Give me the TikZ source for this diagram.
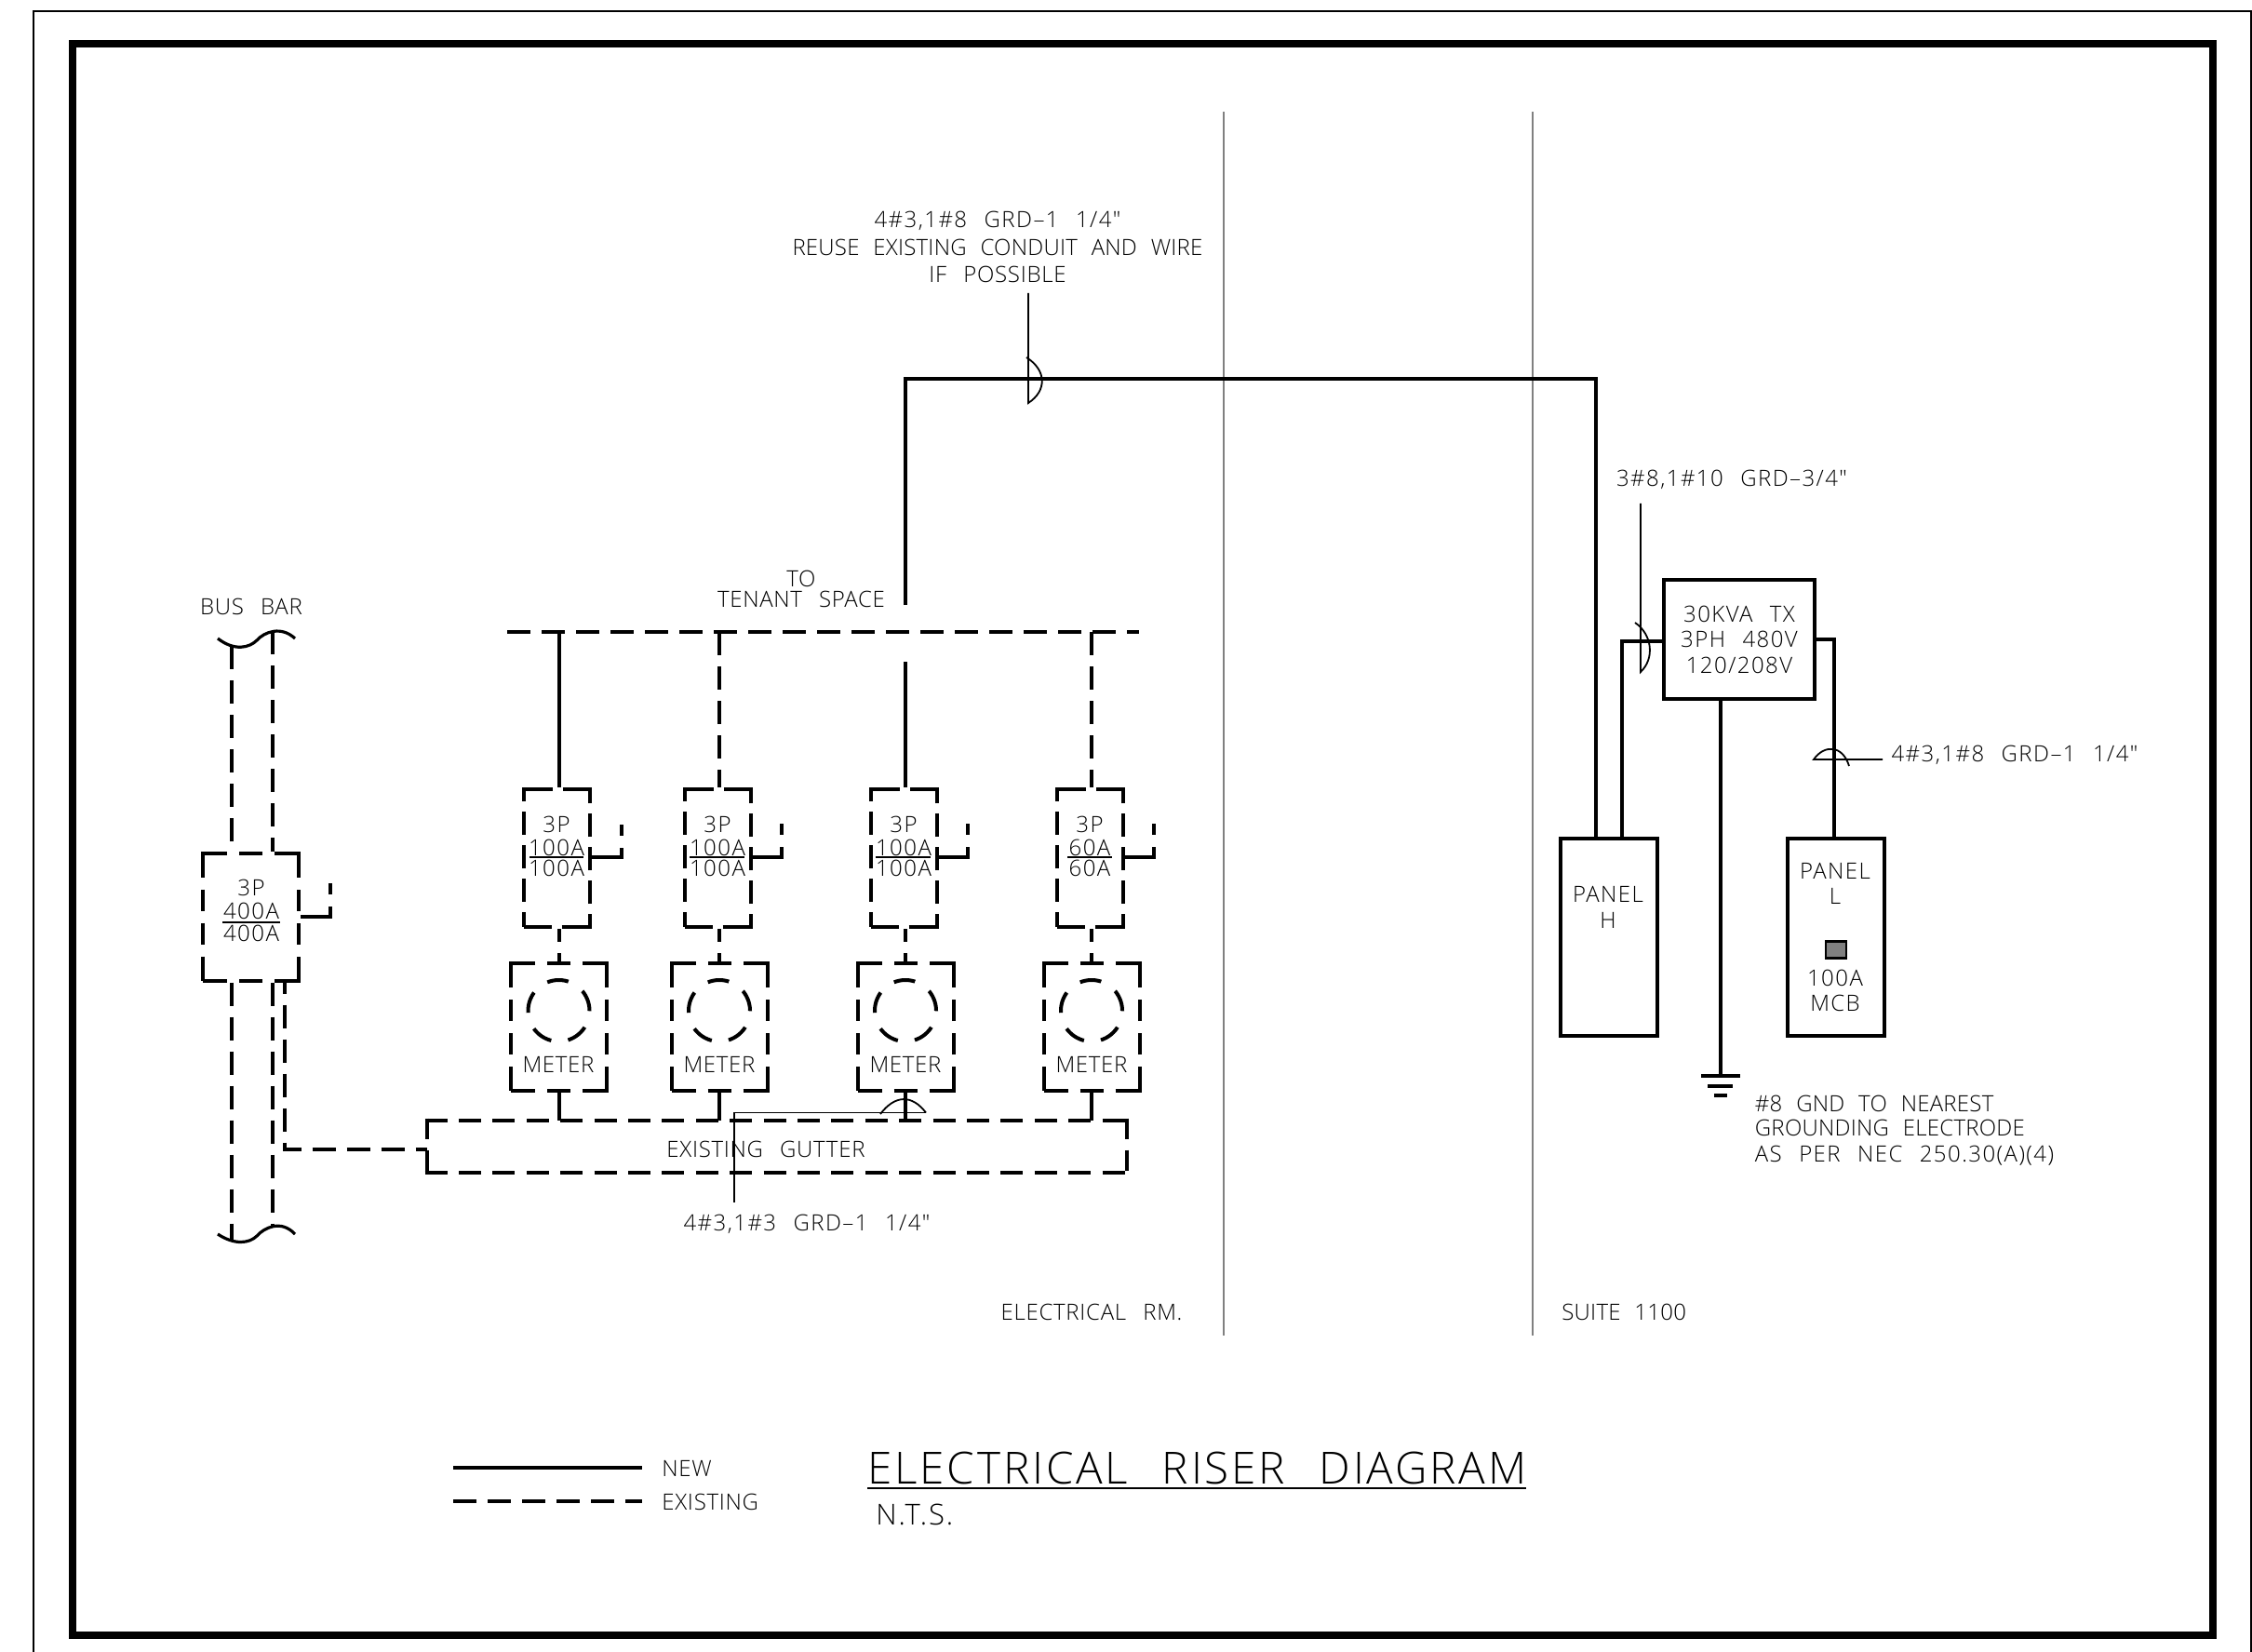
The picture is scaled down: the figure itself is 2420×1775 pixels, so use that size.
\documentclass[tikz,border=0pt]{standalone}
\usepackage{fontspec}
\setmainfont{Open Sans}[UprightFont=* Light,LetterSpace=3,WordSpace=2.6]
\newfontfamily\widefont{Open Sans}[UprightFont=* Light,LetterSpace=6,WordSpace=2.4]
\newfontfamily\tightfont{Open Sans}[UprightFont=* Light,LetterSpace=1,WordSpace=2.3]
\usetikzlibrary{positioning}
\tikzset{
	newwire/.style={line width=2pt},
	oldwire/.style={line width=2pt,dash pattern=on 12.5pt off 6pt},
	leader/.style={line width=0.9pt},
	newbox/.style={draw,line width=2pt,inner sep=0pt},
	oldbox/.style={draw,line width=2pt,inner sep=0pt},
	plaintext/.style={inner sep=0pt,align=center,font=\fontsize{12}{14}\selectfont},
	widetext/.style={inner sep=0pt,align=center,font=\widefont\fontsize{12}{14}\selectfont},
	tighttext/.style={inner sep=0pt,align=center,font=\tightfont\fontsize{12}{14}\selectfont},
	breaker/.style={oldbox,minimum width=35.5pt,minimum height=74pt,
		dash pattern=on 15pt off 5.5pt on 22pt off 5.5pt on 12.5pt off 5.5pt on 12.5pt off 5.5pt on 12.5pt off 5.5pt on 22pt off 5.5pt on 22pt off 5.5pt on 12.5pt off 5.5pt on 12.5pt off 5.5pt on 12.5pt off 5.5pt on 7pt off 0pt},
	meter/.style={oldbox,minimum width=51.5pt,minimum height=68.5pt,
		dash pattern=on 13pt off 6.5pt on 12.5pt off 6.5pt on 26pt off 6.5pt on 11.5pt off 6.5pt on 11.5pt off 6.5pt on 26pt off 6.5pt on 12.5pt off 6.5pt on 26pt off 6.5pt on 11.5pt off 6.5pt on 11.5pt off 6.5pt on 13pt off 0pt},
	dial/.style={circle,oldbox,dash pattern=on 11.5pt off 9.2pt,minimum size=33pt},
	gutterbox/.style={inner sep=0pt,minimum width=376pt,minimum height=28pt},
	gutterlong/.style={line width=2pt,dash pattern=on 12pt off 6.2pt,shorten <=-1pt,shorten >=-1pt},
	guttershort/.style={line width=2pt,dash pattern=on 11pt off 6pt,shorten <=-1pt,shorten >=-1pt},
	handle/.style={line width=2pt,dash pattern=on 6pt off 6.5pt on 60pt off 60pt},
	linkwire/.style={line width=2pt,dash pattern=on 7pt off 6pt},
}
\begin{document}
\begin{tikzpicture}[x=0.5pt,y=0.5pt,yscale=-1,xscale=1]
	\useasboundingbox (0,0) rectangle (2420,1775);
	%Outer frame
	\draw [line width=0.9pt] (36,1775) -- (36,12) -- (2419,12) -- (2419,1775);
	\draw [line width=4pt] (78,47) rectangle (2378,1757);
	%Room walls
	\draw [line width=0.9pt,color=gray] (1315,120) -- (1315,1435);
	\draw [line width=0.9pt,color=gray] (1647,120) -- (1647,1435);

	%Bus bar and main breaker
	\draw (269.5,985) node [meter] (mainbrk) {};
	\draw (270,954) node [widetext] (maina) {3P};
	\draw (270,979) node [widetext] (mainb) {400A};
	\draw (270,1003) node [widetext] (mainc) {400A};
	\draw [leader] (239,991) -- (301,991);
	\draw [line width=1.6pt] (234,686) .. controls (252,700) and (268,696) .. (276,688) .. controls (284,679) and (302,672) .. (317,686);
	\draw [line width=1.6pt] (234,1326) .. controls (252,1338) and (268,1336) .. (276,1328) .. controls (284,1319) and (302,1310) .. (317,1326);
	\coordinate (busatop) at (249,694);
	\coordinate (busbtop) at (293,678);
	\coordinate (busabot) at (249,1333);
	\coordinate (busbbot) at (293,1317);
	\draw [oldwire] (busatop) -- (mainbrk.north -| busatop);
	\draw [oldwire] (busbtop) -- (mainbrk.north -| busbtop);
	\draw [oldwire] (mainbrk.south -| busabot) -- (busabot);
	\draw [oldwire] (mainbrk.south -| busbbot) -- (busbbot);
	\coordinate (mainstub) at (355,949);
	\draw [handle] (mainstub) -- (355,985) -- (mainbrk.east |- 0,985);

	%Gutter
	\draw (835,1232) node [gutterbox] (gutter) {};
	\draw [gutterlong] (gutter.north west) -- (gutter.north east);
	\draw [gutterlong] (gutter.south west) -- (gutter.south east);
	\draw [guttershort] (gutter.north west) -- (gutter.south west);
	\draw [guttershort] (gutter.north east) -- (gutter.south east);
	\draw (823,1235) node [plaintext] (guttertext) {EXISTING GUTTER};
	\draw [oldwire,dash phase=6.5pt] (mainbrk.south -| 306,0) -- (306,1235) -- (gutter.west |- 0,1235);

	%Tap bus
	\draw [oldwire] (545,679) -- (1224,679);
	\coordinate (tapa) at (600.5,679);
	\coordinate (tapb) at (773,679);
	\coordinate (tapc) at (973,711);
	\coordinate (tapd) at (1173,679);

	%Breakers
	\draw (598,922) node [breaker] (brka) {};
	\draw (771,922) node [breaker] (brkb) {};
	\draw (971,922) node [breaker] (brkc) {};
	\draw (1171,922) node [breaker] (brkd) {};
	\draw [newwire] (tapa) -- (tapa |- brka.north);
	\draw [oldwire] (tapb) -- (tapb |- brkb.north);
	\draw [newwire] (tapc) -- (tapc |- brkc.north);
	\draw [oldwire] (tapd) -- (tapd |- brkd.north);
	% Text Node
	\draw (598,886) node [widetext] (brkatop) {3P};
	\draw (598,911) node [widetext] (brkamid) {100A};
	\draw (598,933) node [widetext] (brkalow) {100A};
	\draw (771,886) node [widetext] (brkbtop) {3P};
	\draw (771,911) node [widetext] (brkbmid) {100A};
	\draw (771,933) node [widetext] (brkblow) {100A};
	\draw (971,886) node [widetext] (brkctop) {3P};
	\draw (971,911) node [widetext] (brkcmid) {100A};
	\draw (971,933) node [widetext] (brkclow) {100A};
	\draw (1171,886) node [widetext] (brkdtop) {3P};
	\draw (1171,911) node [widetext] (brkdmid) {60A};
	\draw (1171,933) node [widetext] (brkdlow) {60A};
	\draw [leader] (569,921) -- (627,921);
	\draw [leader] (741,921) -- (800,921);
	\draw [leader] (941,921) -- (1000,921);
	\draw [leader] (1147,921) -- (1195,921);
	%Breaker handles
	\draw [handle] (668,886) -- (668,921) -- (brka.east |- 0,921);
	\draw [handle] (840,885) -- (840,921) -- (brkb.east |- 0,921);
	\draw [handle] (1040,885) -- (1040,921) -- (brkc.east |- 0,921);
	\draw [handle] (1240,885) -- (1240,921) -- (brkd.east |- 0,921);

	%Meters
	\draw (600.5,1103.5) node [meter] (mtra) {};
	\draw (773,1103.5) node [meter] (mtrb) {};
	\draw (973,1103.5) node [meter] (mtrc) {};
	\draw (1173,1103.5) node [meter] (mtrd) {};
	\draw (600.5,1086) node [dial] (diala) {};
	\draw (773,1086) node [dial] (dialb) {};
	\draw (973,1086) node [dial] (dialc) {};
	\draw (1173,1086) node [dial] (diald) {};
	\draw (600,1144) node [plaintext] (mtratext) {METER};
	\draw (773,1144) node [plaintext] (mtrbtext) {METER};
	\draw (973,1144) node [plaintext] (mtrctext) {METER};
	\draw (1173,1144) node [plaintext] (mtrdtext) {METER};
	\draw [linkwire] (tapa |- brka.south) -- (mtra.north);
	\draw [linkwire] (tapb |- brkb.south) -- (mtrb.north);
	\draw [linkwire] (tapc |- brkc.south) -- (mtrc.north);
	\draw [linkwire] (tapd |- brkd.south) -- (mtrd.north);
	\draw [newwire] (mtra.south) -- (mtra.south |- gutter.north);
	\draw [newwire] (mtrb.south) -- (mtrb.south |- gutter.north);
	\draw [newwire] (mtrc.south) -- (mtrc.south |- gutter.north);
	\draw [newwire] (mtrd.south) -- (mtrd.south |- gutter.north);
	%Gutter leader
	\draw (867,1315) node [widetext] (gutterlabel) {4\#3,1\#3 GRD\textendash1 1/4"};
	\coordinate (gutterarc) at (995,1195.5);
	\draw [leader] (gutterarc) -- (788.6,1195.5) -- (788.6,1292);
	\draw [leader] (946,1197) .. controls (962,1176) and (980,1176) .. (gutterarc);

	%Feeder
	\draw (1072,237) node [widetext] (feedera) {4\#3,1\#8 GRD\textendash1 1/4"};
	\draw (1072,266) node [tighttext] (feederb) {REUSE EXISTING CONDUIT AND WIRE};
	\draw (1072,295) node [plaintext] (feederc) {IF POSSIBLE};
	\draw (861,622) node [plaintext] (tenanta) {TO};
	\draw (861,644) node [plaintext] (tenantb) {TENANT SPACE};

	%Panels
	\draw (1728.5,1007) node [newbox,minimum width=52pt,minimum height=106pt] (panelh) {};
	\draw (1972.5,1007) node [newbox,minimum width=52pt,minimum height=106pt] (panell) {};
	\draw (1869,687) node [newbox,minimum width=81pt,minimum height=64pt] (tx) {};
	\draw (1973,1020.5) node [draw,fill=gray,line width=1.4pt,minimum width=11pt,minimum height=9pt,inner sep=0pt] (mcb) {};
	\draw (1728,961) node [widetext] (panelha) {PANEL};
	\draw (1728,989) node [widetext] (panelhb) {H};
	\draw (1972,936) node [widetext] (panella) {PANEL};
	\draw (1972,963) node [widetext] (panellb) {L};
	\draw (1972,1051) node [widetext] (panellc) {100A};
	\draw (1972,1078) node [widetext] (panelld) {MCB};
	\draw (1869,660) node [widetext] (txa) {30KVA TX};
	\draw (1869,687) node [widetext] (txb) {3PH 480V};
	\draw (1869,715) node [widetext] (txc) {120/208V};

	\coordinate (feedtop) at (973.4,650);
	\draw [newwire] (feedtop) -- (973.4,407) -- (1714.6,407) -- (1714.6,0 |- panelh.north);
	\draw [newwire] (panelh.north -| 1743,0) -- (1743,689) -- (tx.west |- 0,689);
	\draw [newwire] (tx.east |- 0,687) -- (1971,687) -- (panell.north -| 1971,0);
	\coordinate (gnd) at (1848.5,1156);
	\draw [newwire] (tx.south -| gnd) -- (gnd);
	\draw [newwire] (1828,1156) -- (1869.5,1156);
	\draw [newwire] (1835,1167) -- (1862,1167);
	\draw [newwire] (1842,1177) -- (1856,1177);

	%Leaders
	\draw [leader] (1105,315) -- (1105,433) .. controls (1125,420) and (1125,398) .. (1103,384);
	\draw (1861,515) node [widetext] (txlabel) {3\#8,1\#10 GRD\textendash3/4"};
	\draw [leader] (1763,541) -- (1763,722) .. controls (1778,708) and (1776,682) .. (1757,669);
	\draw (2165,811) node [widetext] (panellabel) {4\#3,1\#8 GRD\textendash1 1/4"};
	\draw [leader] (2023,816) -- (1949,816) .. controls (1960,800) and (1980,800) .. (1987,823);
	\draw (1885.5,1186) node [tighttext,anchor=west] (gnda) {\#8 GND TO NEAREST};
	\draw (1885.5,1212) node [tighttext,anchor=west] (gndb) {GROUNDING ELECTRODE};
	\draw (1885.5,1242) node [widetext,anchor=west] (gndc) {AS PER NEC 250.30(A)(4)};

	%Room names
	\draw (1173,1410) node [plaintext] (roomelec) {ELECTRICAL RM.};
	\draw (1678,1410) node [tighttext,anchor=west] (roomsuite) {SUITE 1100};

	%Bus label
	\draw (270,652) node [plaintext] (buslabel) {BUS BAR};

	%Legend and title
	\draw (711,1578) node [plaintext,anchor=west] (newtext) {NEW};
	\draw (711,1614) node [plaintext,anchor=west] (oldtext) {EXISTING};
	\coordinate (newstart) at (487,1577);
	\coordinate (oldstart) at (487,1613);
	\draw [newwire] (newstart) -- (690,1577);
	\draw [oldwire] (oldstart) -- (690,1613);
	\draw (932,1577) node [plaintext,anchor=west,font=\widefont\fontsize{23.8}{28}\selectfont] (title) {ELECTRICAL RISER DIAGRAM};
	\draw [line width=1.3pt] (932,1599) -- (1640,1599);
	\draw (941,1627) node [widetext,anchor=west,font=\widefont\fontsize{15.5}{18}\selectfont] (scale) {N.T.S.};
\end{tikzpicture}
\end{document}
